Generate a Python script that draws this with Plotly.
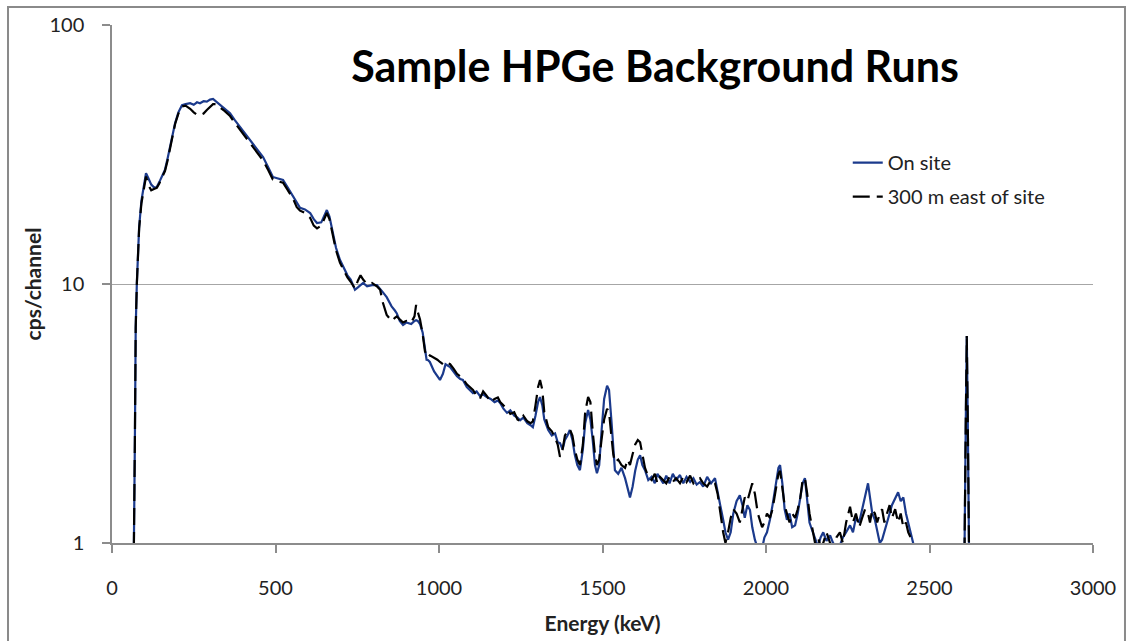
import plotly.graph_objects as go

# ---------------- data ----------------
energy_kev = [
    60, 67, 70, 72.5, 76, 80, 83, 90, 98, 104,
    112, 120, 130, 137, 145, 155, 162, 170, 177, 185,
    193, 203, 214, 225, 239, 250, 260, 269, 280, 290,
    300, 309, 320, 330, 345, 361, 375, 391, 405, 422,
    440, 462, 478, 492, 505, 523, 538, 554, 565, 575,
    590, 606, 617, 627, 640, 650, 657, 665, 676, 685,
    697, 707, 720, 730, 743, 752, 760, 768, 780, 795,
    810, 820, 828, 840, 855, 865, 871, 880, 890, 900,
    915, 925, 930, 935, 942, 950, 957, 962, 966, 972,
    985, 995, 1003, 1012, 1020, 1034, 1045, 1055, 1065, 1073,
    1085, 1095, 1104, 1115, 1125, 1135, 1146, 1158, 1170, 1180,
    1187, 1197, 1208, 1218, 1230, 1240, 1248, 1258, 1270, 1280,
    1287, 1295, 1303, 1309, 1316, 1322, 1334, 1345, 1355, 1363,
    1370, 1378, 1385, 1393, 1400, 1408, 1415, 1423, 1431, 1440,
    1447, 1456, 1463, 1470, 1477, 1483, 1490, 1497, 1505, 1514,
    1520, 1527, 1533, 1538, 1548, 1558, 1569, 1577, 1584, 1592,
    1600, 1608, 1615, 1622, 1630, 1640, 1650, 1660, 1668, 1676,
    1686, 1695, 1705, 1715, 1725, 1737, 1747, 1757, 1768, 1778,
    1788, 1798, 1808, 1820, 1832, 1844, 1852, 1860, 1869, 1876,
    1884, 1892, 1900, 1910, 1920, 1928, 1935, 1943, 1951, 1958,
    1966, 1975, 1988, 1995, 2003, 2012, 2020, 2030, 2038, 2043,
    2050, 2057, 2064, 2072, 2080, 2089, 2097, 2105, 2112, 2119,
    2126, 2133, 2141, 2150, 2159, 2167, 2175, 2185, 2196, 2205,
    2215, 2226, 2235, 2245, 2257, 2266, 2275, 2285, 2294, 2303,
    2312, 2318, 2325, 2333, 2340, 2348, 2355, 2362, 2370, 2378,
    2385, 2395, 2404, 2412, 2420, 2428, 2435, 2442, 2450, 2458,
    2605, 2611, 2614, 2617, 2623,
]

cps_on_site = [
    0.5, 1.0, 2.5, 6.8, 10.1, 14, 16.6, 21, 24.5, 26.8,
    25.5, 24.2, 23.5, 23.7, 24.8, 26.5, 27.6, 30.5, 33.8, 38,
    41.8, 46, 49, 49.5, 49.9, 49.2, 50.3, 49.9, 50.8, 50.6,
    51.5, 51.8, 50.5, 49, 47.5, 45.6, 43, 40.5, 38.5, 36,
    33.5, 30.9, 28.2, 25.9, 25.6, 25.2, 23.5, 21.7, 20.5, 19.7,
    19.4, 18.8, 17.8, 17.2, 17.3, 18.6, 19.3, 18.2, 15.5, 13.8,
    12.4, 11.6, 10.8, 10.4, 9.5, 9.7, 9.9, 10.1, 9.8, 9.9,
    9.9, 9.6, 9.3, 8.9, 8.2, 7.9, 7.7, 7.2, 6.95, 7.1,
    7.0, 7.2, 7.25, 7.2, 7.0, 6.5, 5.6, 5.1, 5.09, 5.0,
    4.6, 4.4, 4.26, 4.5, 4.9, 4.78, 4.6, 4.4, 4.3, 4.26,
    4.0, 3.9, 3.79, 3.85, 3.7, 3.75, 3.66, 3.6, 3.5, 3.55,
    3.47, 3.3, 3.18, 3.25, 3.1, 3.05, 2.98, 3.05, 2.9, 2.85,
    2.8, 3.1, 3.5, 3.66, 3.4, 3.0, 2.73, 2.6, 2.65, 2.45,
    2.43, 2.3, 2.5, 2.6, 2.73, 2.5, 2.2, 2.0, 1.91, 2.3,
    2.9, 3.26, 3.0, 2.5, 2.0, 1.86, 2.0, 2.7, 3.6, 4.05,
    3.9, 3.0, 2.3, 1.91, 1.85, 1.95, 1.78, 1.6, 1.5, 1.65,
    1.9, 2.1, 2.18, 2.0, 1.91, 1.75, 1.8, 1.7, 1.85, 1.78,
    1.7, 1.82, 1.7, 1.85, 1.75, 1.83, 1.7, 1.8, 1.72, 1.78,
    1.68, 1.72, 1.65, 1.8, 1.7, 1.78, 1.6, 1.4, 1.23, 1.1,
    1.03, 1.1, 1.3, 1.45, 1.53, 1.4, 1.25, 1.4, 1.34, 1.15,
    1.03, 0.95, 0.95, 1.05, 1.1, 1.23, 1.4, 1.7, 1.95, 2.0,
    1.7, 1.35, 1.23, 1.3, 1.15, 1.17, 1.3, 1.5, 1.7, 1.78,
    1.5, 1.2, 1.12, 1.05, 0.97, 1.05, 1.1, 1.02, 1.07, 1.0,
    0.97, 0.98, 1.05, 1.1, 1.17, 1.1, 1.25, 1.2, 1.34, 1.5,
    1.7, 1.5, 1.3, 1.23, 1.1, 1.0, 1.03, 1.1, 1.2, 1.3,
    1.4, 1.5, 1.57, 1.45, 1.5, 1.3, 1.2, 1.1, 1.0, 0.5,
    0.5, 3.0, 6.3, 3.0, 0.5,
]

cps_east = [
    0.5, 1.0, 2.5, 6.8, 10, 13.8, 16.4, 20.5, 24, 26,
    24, 23, 23.3, 23.5, 24.5, 26.2, 27.3, 30, 33.3, 37.5,
    41.5, 45.5, 48.5, 48.8, 47.5, 46, 45, 44.8, 45.5, 47,
    48.5, 49.5, 49.5, 48, 46.5, 44.5, 42, 39.5, 37.5, 35,
    32.5, 30, 27.5, 25.3, 25, 24.6, 23, 21.3, 19.8, 19.2,
    18.8, 18, 16.8, 16.4, 16.8, 18, 18.8, 17.8, 15.2, 13.5,
    12.1, 11.4, 10.6, 10.2, 9.6, 10.3, 10.8, 10.4, 10.0, 10.1,
    9.8, 9.5, 8.5, 7.6, 7.2, 7.4, 7.5, 7.3, 7.1, 7.2,
    7.1, 7.5, 8.3, 7.8, 7.3, 6.4, 5.5, 5.3, 5.2, 5.3,
    5.2, 5.1, 5.0, 4.9, 5.0, 4.9, 4.7, 4.5, 4.4, 4.3,
    4.1, 4.0, 3.9, 3.7, 3.6, 3.85, 3.7, 3.5, 3.6, 3.65,
    3.5, 3.4, 3.3, 3.15, 3.2, 3.0, 2.95, 3.1, 2.95, 2.9,
    2.95, 3.4, 4.0, 4.26, 3.9, 3.2, 2.8, 2.7, 2.55, 2.4,
    2.15, 2.3, 2.6, 2.7, 2.75, 2.6, 2.3, 2.1, 2.0, 2.4,
    3.2, 3.66, 3.5, 2.7, 2.2, 2.0, 2.1, 2.5, 3.0, 3.3,
    3.2, 2.6, 2.2, 2.05, 2.1, 2.0, 1.95, 2.1, 2.0, 2.2,
    2.4, 2.5, 2.45, 2.2, 1.95, 1.8, 1.75, 1.85, 1.7, 1.8,
    1.75, 1.7, 1.8, 1.72, 1.78, 1.7, 1.8, 1.72, 1.82, 1.7,
    1.75, 1.78, 1.7, 1.65, 1.75, 1.7, 1.55, 1.3, 1.1, 1.0,
    1.1, 1.25, 1.35, 1.3, 1.2, 1.35, 1.5, 1.45, 1.6, 1.7,
    1.55, 1.3, 1.15, 1.2, 1.3, 1.25, 1.35, 1.6, 1.85, 1.9,
    1.65, 1.4, 1.3, 1.2, 1.3, 1.25, 1.35, 1.5, 1.75, 1.78,
    1.55, 1.3, 1.15, 1.0, 1.05, 0.97, 1.0, 1.1, 1.0, 0.97,
    1.05, 1.1, 1.0, 1.2, 1.38, 1.2, 1.3, 1.15, 1.25, 1.35,
    1.3, 1.2, 1.35, 1.3, 1.2, 1.3, 1.35, 1.2, 1.3, 1.4,
    1.25, 1.35, 1.2, 1.3, 1.15, 1.2, 1.1, 1.05, 1.0, 0.5,
    0.5, 3.0, 6.3, 3.0, 0.5,
]

series_names = ["On site", "300 m east of site"]
x_ticks = [0, 500, 1000, 1500, 2000, 2500, 3000]
y_ticks = [1, 10, 100]
y_tick_labels = ["1", "10", "100"]

# ---------------- figure ----------------
FONT = "Lato, 'Open Sans', sans-serif"
AXIS_GRAY = "#8c8c8c"

fig = go.Figure()
fig.add_trace(go.Scatter(
    x=energy_kev, y=cps_on_site, mode="lines", name=series_names[0],
    line=dict(color="#1b3a8c", width=2.2), legendgroup="a",
))
fig.add_trace(go.Scatter(
    x=energy_kev, y=cps_east, mode="lines", name=series_names[1],
    line=dict(color="#000000", width=2.2, dash="17px,7px"), legendgroup="b",
))

fig.update_layout(
    width=1133, height=641,
    margin=dict(l=112, r=40, t=25, b=98, autoexpand=False),
    paper_bgcolor="white", plot_bgcolor="white",
    font=dict(family=FONT, size=20, color="#222222"),
    title=dict(
        text="<b>Sample HPGe Background Runs</b>",
        font=dict(family=FONT, size=43, color="#000000"),
        x=0.5535, xref="paper", xanchor="center",
        y=1 - 67 / 641, yref="container", yanchor="middle",
    ),
    showlegend=True,
    legend=dict(
        x=0.75, y=0.772, xanchor="left", yanchor="top",
        bgcolor="rgba(0,0,0,0)", font=dict(family=FONT, size=20, color="#222222"),
        tracegroupgap=5, traceorder="grouped",
    ),
    xaxis=dict(
        range=[0, 3000], tickvals=x_ticks, showgrid=False, zeroline=False,
        showline=True, linecolor=AXIS_GRAY, linewidth=1.5,
        ticks="outside", ticklen=8, tickcolor=AXIS_GRAY, tickwidth=1.5,
        ticklabelstandoff=18, automargin=False,
        title=dict(text="<b>Energy (keV)</b>", font=dict(family=FONT, size=21, color="#222222"), standoff=19),
    ),
    yaxis=dict(
        type="log", range=[0, 2], tickvals=y_ticks, ticktext=y_tick_labels,
        showgrid=True, gridcolor="#a6a6a6", gridwidth=1, zeroline=False,
        showline=True, linecolor=AXIS_GRAY, linewidth=1.5,
        ticks="outside", ticklen=8, tickcolor=AXIS_GRAY, tickwidth=1.5,
        ticklabelstandoff=14, automargin=False,
        title=dict(text="<b>cps/channel</b>", font=dict(family=FONT, size=21, color="#222222"), standoff=2),
    ),
    shapes=[dict(
        type="rect", xref="paper", yref="paper",
        x0=-0.106, x1=1.0326, y0=-0.25, y1=1.0347,
        line=dict(color="#8a8a8a", width=2), fillcolor="rgba(0,0,0,0)", layer="below",
    )],
)

fig.write_html("out.html")
